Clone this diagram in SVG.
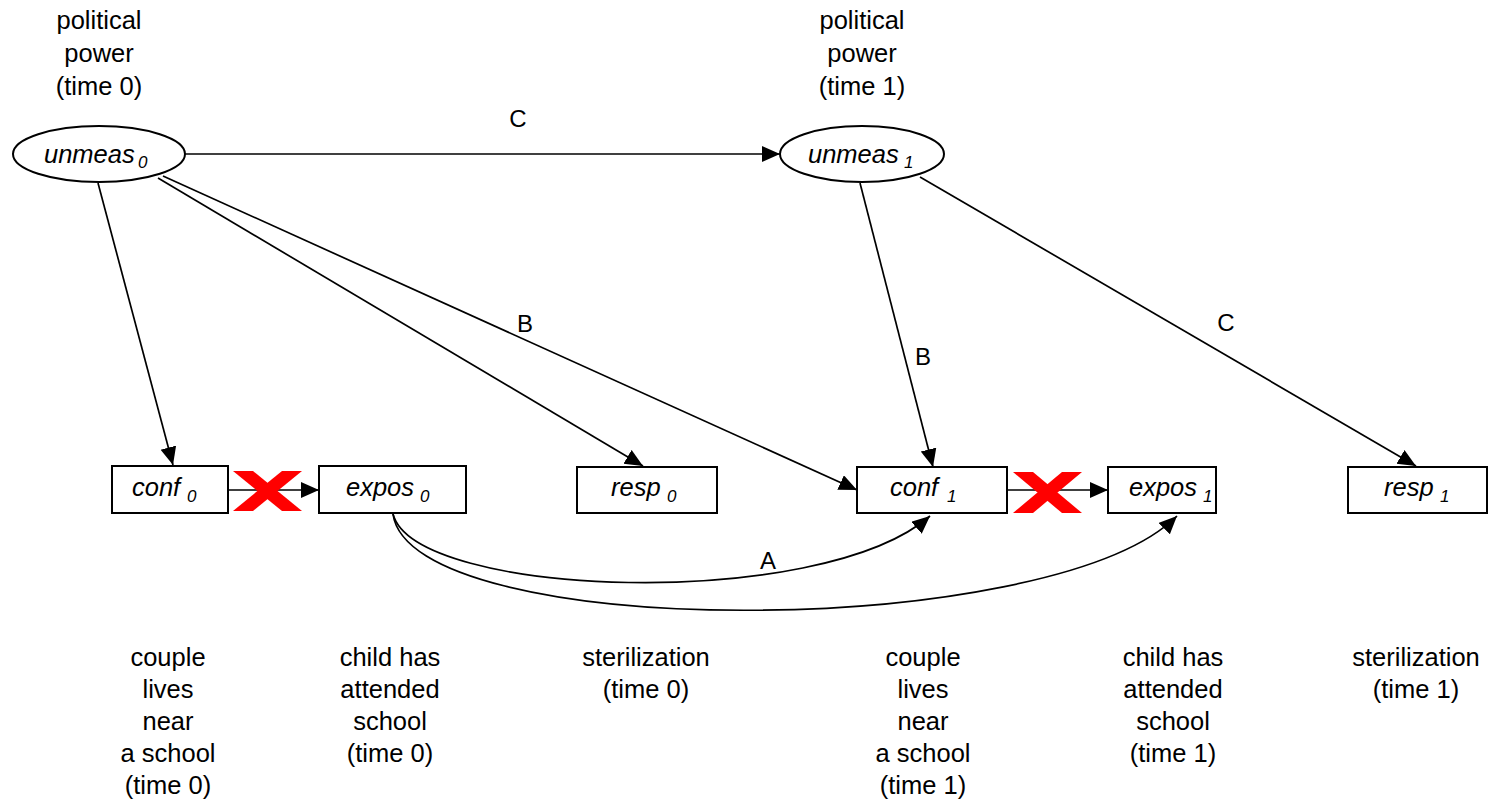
<svg xmlns="http://www.w3.org/2000/svg" width="1491" height="804" viewBox="0 0 1491 804">
  <style>
    .node { fill: #ffffff; stroke: #000000; stroke-width: 2; }
    .lbl { font-family: "Liberation Sans", Arial, sans-serif; font-size: 25.5px; font-style: italic; fill: #000000; }
    .sub { font-size: 17px; }
    .cap { font-family: "Liberation Sans", Arial, sans-serif; font-size: 25.5px; fill: #000000; text-anchor: middle; }
    .edge { fill: none; stroke: #000000; stroke-width: 1.7; marker-end: url(#arrow); }
    .elbl { font-family: "Liberation Sans", Arial, sans-serif; font-size: 24px; fill: #000000; text-anchor: middle; }
    .cross { fill: #ff0000; }
  </style>
  <defs>
    <marker id="arrow" markerUnits="userSpaceOnUse" markerWidth="20" markerHeight="18" refX="18" refY="8" orient="auto">
      <path d="M0,0 L18,8 L0,16 Z" fill="#000000"/>
    </marker>
  </defs>

  <rect width="1491" height="804" fill="#ffffff"/>

  <!-- captions -->
  <g id="captions">
    <text class="cap" x="99" y="29">political</text>
    <text class="cap" x="99" y="62">power</text>
    <text class="cap" x="99" y="95">(time 0)</text>
    <text class="cap" x="862" y="29">political</text>
    <text class="cap" x="862" y="62">power</text>
    <text class="cap" x="862" y="95">(time 1)</text>

    <text class="cap" x="168" y="666">couple</text>
    <text class="cap" x="168" y="698">lives</text>
    <text class="cap" x="168" y="730">near</text>
    <text class="cap" x="168" y="762">a school</text>
    <text class="cap" x="168" y="794">(time 0)</text>

    <text class="cap" x="390" y="666">child has</text>
    <text class="cap" x="390" y="698">attended</text>
    <text class="cap" x="390" y="730">school</text>
    <text class="cap" x="390" y="762">(time 0)</text>

    <text class="cap" x="646" y="666">sterilization</text>
    <text class="cap" x="646" y="698">(time 0)</text>

    <text class="cap" x="923" y="666">couple</text>
    <text class="cap" x="923" y="698">lives</text>
    <text class="cap" x="923" y="730">near</text>
    <text class="cap" x="923" y="762">a school</text>
    <text class="cap" x="923" y="794">(time 1)</text>

    <text class="cap" x="1173" y="666">child has</text>
    <text class="cap" x="1173" y="698">attended</text>
    <text class="cap" x="1173" y="730">school</text>
    <text class="cap" x="1173" y="762">(time 1)</text>

    <text class="cap" x="1416" y="666">sterilization</text>
    <text class="cap" x="1416" y="698">(time 1)</text>
  </g>

  <!-- connectors -->
  <g id="connectors">
    <line class="edge" x1="185" y1="154" x2="780" y2="154"/>
    <line class="edge" x1="98" y1="183" x2="173" y2="465"/>
    <line class="edge" x1="158" y1="178" x2="643" y2="466"/>
    <line class="edge" x1="163" y1="176" x2="857" y2="490"/>
    <line class="edge" x1="860" y1="183" x2="933" y2="467"/>
    <line class="edge" x1="920" y1="177" x2="1416" y2="466"/>
    <line class="edge" x1="228" y1="490" x2="319" y2="490"/>
    <line class="edge" x1="1007" y1="490" x2="1108" y2="490"/>
    <path class="edge" d="M393,514 C415,598 820,612 930,516"/>
    <path class="edge" d="M393,514 C410,642 1050,642 1177,516"/>
    <text class="elbl" x="518" y="127">C</text>
    <text class="elbl" x="525" y="332">B</text>
    <text class="elbl" x="923" y="365">B</text>
    <text class="elbl" x="1226" y="331">C</text>
    <text class="elbl" x="768" y="569">A</text>
  </g>

  <!-- nodes -->
  <g id="unmeas0">
    <ellipse class="node" cx="99" cy="154" rx="86" ry="28"/>
    <text class="lbl" x="44" y="163">unmeas<tspan class="sub" x="138" dy="5">0</tspan></text>
  </g>
  <g id="unmeas1">
    <ellipse class="node" cx="862" cy="154" rx="82" ry="28"/>
    <text class="lbl" x="808" y="163">unmeas<tspan class="sub" x="904" dy="5">1</tspan></text>
  </g>
  <g id="conf0">
    <rect class="node" x="112" y="466" width="116" height="47"/>
    <text class="lbl" x="132" y="496">conf<tspan class="sub" x="187" dy="6">0</tspan></text>
  </g>
  <g id="expos0">
    <rect class="node" x="319" y="466" width="147" height="47"/>
    <text class="lbl" x="346" y="496">expos<tspan class="sub" x="420" dy="6">0</tspan></text>
  </g>
  <g id="resp0">
    <rect class="node" x="577" y="467" width="140" height="46"/>
    <text class="lbl" x="611" y="496">resp<tspan class="sub" x="667" dy="6">0</tspan></text>
  </g>
  <g id="conf1">
    <rect class="node" x="857" y="467" width="150" height="46"/>
    <text class="lbl" x="890" y="496">conf<tspan class="sub" x="947" dy="6">1</tspan></text>
  </g>
  <g id="expos1">
    <rect class="node" x="1108" y="467" width="108" height="46"/>
    <text class="lbl" x="1129" y="496">expos<tspan class="sub" x="1203" dy="6">1</tspan></text>
  </g>
  <g id="resp1">
    <rect class="node" x="1348" y="467" width="139" height="46"/>
    <text class="lbl" x="1384" y="496">resp<tspan class="sub" x="1440" dy="6">1</tspan></text>
  </g>

  <!-- crossed-out links -->
  <g id="cross0">
    <polygon class="cross" points="233,471 253,471 302,511 282,511"/>
    <polygon class="cross" points="282,471 302,471 253,511 233,511"/>
  </g>
  <g id="cross1">
    <polygon class="cross" points="1013,472 1033,472 1082,513 1062,513"/>
    <polygon class="cross" points="1062,472 1082,472 1033,513 1013,513"/>
  </g>
</svg>
